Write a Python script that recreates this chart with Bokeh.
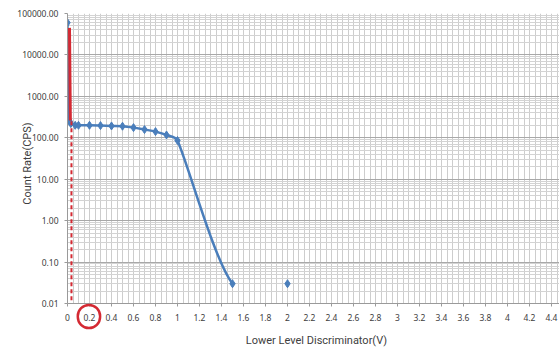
import numpy as np
from bokeh.plotting import figure
from bokeh.models import FixedTicker, CustomJSTickFormatter, Label, Range1d
from bokeh.embed import file_html
from bokeh.resources import INLINE

# ---- data ----
lld_v = [0.0, 0.005, 0.02, 0.03, 0.07, 0.1, 0.2, 0.3, 0.4, 0.5, 0.6, 0.7, 0.8, 0.9, 1.0, 1.5]
count_rate = [60000, 800, 250, 220, 200, 200, 200, 197, 193, 190, 176, 158, 141, 117, 86, 0.03]
lone_x = [2.0]
lone_y = [0.03]
cut_solid_x = [0.018, 0.026]
cut_solid_y = [45000, 260]
cut_dash_x = [0.036, 0.036]
cut_dash_y = [250, 0.01]
circled_tick = 0.195

x_ticks = [0.0, 0.2, 0.4, 0.6, 0.8, 1.0, 1.2, 1.4, 1.6, 1.8, 2.0, 2.2, 2.4, 2.6, 2.8,
           3.0, 3.2, 3.4, 3.6, 3.8, 4.0, 4.2, 4.4]
x_labels = ["0", "0.2", "0.4", "0.6", "0.8", "1", "1.2", "1.4", "1.6", "1.8", "2", "2.2",
            "2.4", "2.6", "2.8", "3", "3.2", "3.4", "3.6", "3.8", "4", "4.2", "4.4"]
y_ticks = [0.01, 0.1, 1, 10, 100, 1000, 10000, 100000]
y_labels = ["0.01", "0.10", "1.00", "10.00", "100.00", "1000.00", "10000.00", "100000.00"]
x_title = "Lower Level Discriminator(V)"
y_title = "Count Rate(CPS)"

BLUE = "#4a7ebb"
RED = "#d42a33"
FONT = "Noto Sans"
TFONT = "Roboto"

W, H = 559, 349
LEFT, RIGHT, TOP, BOTTOM = 67, 0, 13, 46
PX_PER_X = 110.0
PX_PER_DEC = (H - TOP - BOTTOM) / 7.0
x_end = (W - LEFT - RIGHT) / PX_PER_X

p = figure(width=W, height=H, output_backend="svg", toolbar_location=None,
           y_axis_type="log", x_range=Range1d(0, x_end), y_range=Range1d(0.01, 100000),
           min_border_left=LEFT, min_border_right=RIGHT, min_border_top=TOP,
           min_border_bottom=BOTTOM)
p.outline_line_color = None
p.background_fill_color = "white"

# grid
p.xgrid.ticker = FixedTicker(ticks=[round(0.05 * i, 2) for i in range(0, 91)])
p.xgrid.grid_line_color = "#cdcdcd"
p.xgrid.grid_line_width = 1
minor_y = [m * 10.0 ** k for k in range(-2, 5) for m in range(2, 10)]
p.ygrid.ticker = FixedTicker(ticks=y_ticks, minor_ticks=minor_y)
p.ygrid.grid_line_color = "#a8a8a8"
p.ygrid.minor_grid_line_color = "#d3d3d3"

# axes
fmt_code = """
let b = 0;
for (let i = 0; i < t.length; i++) { if (Math.abs(t[i]-tick) < Math.abs(t[b]-tick)) b = i; }
return l[b];
"""
p.xaxis.ticker = FixedTicker(ticks=x_ticks)
p.xaxis.formatter = CustomJSTickFormatter(args=dict(t=x_ticks, l=x_labels), code=fmt_code)
p.yaxis.ticker = FixedTicker(ticks=y_ticks)
p.yaxis.formatter = CustomJSTickFormatter(args=dict(t=y_ticks, l=y_labels), code=fmt_code)
for ax in (p.xaxis[0], p.yaxis[0]):
    ax.axis_line_color = "#9a9a9a"
    ax.major_tick_line_color = "#9a9a9a"
    ax.major_tick_out = 3
    ax.major_tick_in = 0
    ax.minor_tick_line_color = None
    ax.major_label_text_font = FONT
    ax.major_label_text_font_size = "8.5px"
    ax.major_label_text_color = "#404040"
p.xaxis.major_label_standoff = 7
p.yaxis.major_label_standoff = 6

# axis titles as labels in side panels (positioned in data units, not clipped)
p.add_layout(Label(x=-40 / PX_PER_X, y=10 ** (5 - 150 / PX_PER_DEC), angle=np.pi / 2,
                   text=y_title, text_font=TFONT, text_font_size="11px",
                   text_color="#404040", text_align="center", text_baseline="middle"),
             "left")
p.add_layout(Label(x=(W - LEFT) / 2 / PX_PER_X + 3 / PX_PER_X,
                   y=10 ** (-2 - 37 / PX_PER_DEC),
                   text=x_title, text_font=TFONT, text_font_size="11px",
                   text_color="#404040", text_align="center", text_baseline="middle"),
             "above")

# smoothed line (Excel-like Catmull-Rom bezier in (x, log y); last point's tangent
# uses the following lone point; control arms limited to a third of the segment)
all_x = lld_v + lone_x
all_y = count_rate + lone_y
S = np.column_stack([np.array(all_x) * PX_PER_X, np.log10(np.array(all_y, float)) * PX_PER_DEC])
n = len(lld_v)
m = len(S)


def arm(vec, limit):
    ln = np.hypot(*vec)
    return vec if ln <= limit else vec * (limit / ln)


x0, y0, x1, y1, cx0, cy0, cx1, cy1 = ([] for _ in range(8))
for i in range(n - 1):
    P0 = S[max(i - 1, 0)]
    P1 = S[i]
    P2 = S[i + 1]
    P3 = S[min(i + 2, m - 1)]
    lim = np.hypot(*(P2 - P1)) / 3.0
    c1 = P1 + arm((P2 - P0) / 6.0, lim)
    c2 = P2 - arm((P3 - P1) / 6.0, lim)
    x0.append(P1[0] / PX_PER_X); y0.append(10 ** (P1[1] / PX_PER_DEC))
    x1.append(P2[0] / PX_PER_X); y1.append(10 ** (P2[1] / PX_PER_DEC))
    cx0.append(c1[0] / PX_PER_X); cy0.append(10 ** (c1[1] / PX_PER_DEC))
    cx1.append(c2[0] / PX_PER_X); cy1.append(10 ** (c2[1] / PX_PER_DEC))
p.bezier(x0=x0, y0=y0, x1=x1, y1=y1, cx0=cx0, cy0=cy0, cx1=cx1, cy1=cy1,
         line_color=BLUE, line_width=2.5)
p.scatter(lld_v, count_rate, marker="diamond", size=8, fill_color=BLUE, line_color=BLUE)
p.scatter(lone_x, lone_y, marker="diamond", size=8, fill_color=BLUE, line_color=BLUE)

# red cut-off marks
p.line(cut_solid_x, cut_solid_y, line_color=RED, line_width=3)
p.line(cut_dash_x, cut_dash_y, line_color=RED, line_width=2, line_dash="4 3")

# red circle around the 0.2 tick label (side panel -> not clipped)
p.add_layout(Label(x=circled_tick, y=10 ** (-2 - 13 / PX_PER_DEC), text=" ",
                   text_font_size="1px", text_align="center", text_baseline="middle",
                   padding=11, border_radius=12, border_line_color=RED,
                   border_line_width=2.5, background_fill_color=None),
             "below")

open("out.html", "w").write(file_html(p, INLINE))
